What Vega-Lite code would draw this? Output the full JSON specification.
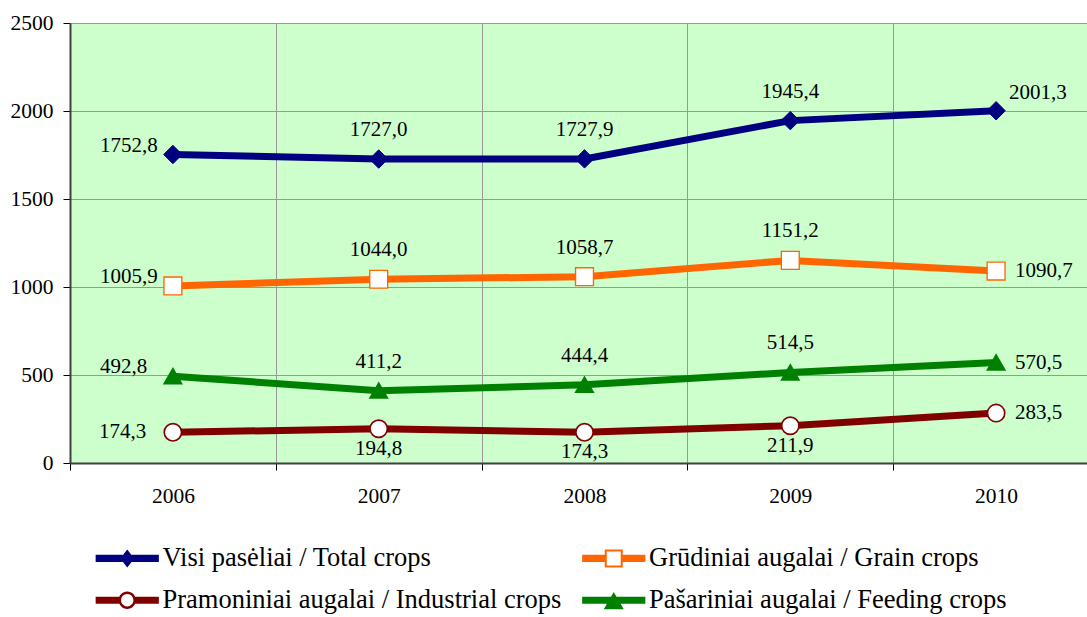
{
  "$schema": "https://vega.github.io/schema/vega-lite/v6.json",
  "width": 1029,
  "height": 440,
  "autosize": {"type": "none"},
  "padding": {"left": 70, "top": 23, "right": 0, "bottom": 154},
  "background": "white",
  "config": {
    "locale": {"number": {"decimal": ",", "thousands": "", "grouping": [3], "currency": ["", ""]}},
    "view": {"fill": "#CCFFCC", "stroke": null},
    "font": "Liberation Serif",
    "text": {"font": "Liberation Serif", "fontSize": 21, "color": "black"},
    "legend": {
      "orient": "none", "legendX": 44, "legendY": 522,
      "direction": "horizontal", "columns": 2, "title": null,
      "symbolSize": 256, "symbolStrokeWidth": 0, "symbolOpacity": 1,
      "labelFont": "Liberation Serif", "labelFontSize": 26.5, "labelColor": "black",
      "labelOffset": 22, "columnPadding": 19.5, "rowPadding": 15, "labelLimit": 700
    }
  },
  "data": {
    "values": [
      {"year": "2006", "series": "Visi pasėliai / Total crops", "value": 1752.8},
      {"year": "2007", "series": "Visi pasėliai / Total crops", "value": 1727.0},
      {"year": "2008", "series": "Visi pasėliai / Total crops", "value": 1727.9},
      {"year": "2009", "series": "Visi pasėliai / Total crops", "value": 1945.4},
      {"year": "2010", "series": "Visi pasėliai / Total crops", "value": 2001.3},
      {"year": "2006", "series": "Grūdiniai augalai / Grain crops", "value": 1005.9},
      {"year": "2007", "series": "Grūdiniai augalai / Grain crops", "value": 1044.0},
      {"year": "2008", "series": "Grūdiniai augalai / Grain crops", "value": 1058.7},
      {"year": "2009", "series": "Grūdiniai augalai / Grain crops", "value": 1151.2},
      {"year": "2010", "series": "Grūdiniai augalai / Grain crops", "value": 1090.7},
      {"year": "2006", "series": "Pramoniniai augalai / Industrial crops", "value": 174.3},
      {"year": "2007", "series": "Pramoniniai augalai / Industrial crops", "value": 194.8},
      {"year": "2008", "series": "Pramoniniai augalai / Industrial crops", "value": 174.3},
      {"year": "2009", "series": "Pramoniniai augalai / Industrial crops", "value": 211.9},
      {"year": "2010", "series": "Pramoniniai augalai / Industrial crops", "value": 283.5},
      {"year": "2006", "series": "Pašariniai augalai / Feeding crops", "value": 492.8},
      {"year": "2007", "series": "Pašariniai augalai / Feeding crops", "value": 411.2},
      {"year": "2008", "series": "Pašariniai augalai / Feeding crops", "value": 444.4},
      {"year": "2009", "series": "Pašariniai augalai / Feeding crops", "value": 514.5},
      {"year": "2010", "series": "Pašariniai augalai / Feeding crops", "value": 570.5}
    ]
  },
  "encoding": {
    "x": {
      "field": "year", "type": "ordinal",
      "scale": {"type": "band", "paddingInner": 0, "paddingOuter": 0},
      "axis": {
        "title": null, "labelAngle": 0, "tickBand": "extent",
        "labelFont": "Liberation Serif", "labelFontSize": 21.5, "labelColor": "black",
        "labelPadding": 15.5, "tickSize": 7, "tickColor": "black", "tickWidth": 1,
        "domainColor": "#404040", "domainWidth": 2,
        "grid": true, "gridColor": "#999999", "gridWidth": 1
      }
    },
    "y": {
      "field": "value", "type": "quantitative",
      "scale": {"domain": [0, 2500], "nice": false, "zero": true},
      "axis": {
        "title": null, "values": [0, 500, 1000, 1500, 2000, 2500], "format": "d",
        "labelFont": "Liberation Serif", "labelFontSize": 21.5, "labelColor": "black",
        "labelPadding": 10, "tickSize": 7, "tickColor": "black", "tickWidth": 1,
        "domainColor": "#404040", "domainWidth": 2,
        "grid": true, "gridColor": "#999999", "gridWidth": 1
      }
    }
  },
  "resolve": {"scale": {"shape": "independent", "fill": "independent"}, "legend": {"shape": "independent", "fill": "independent"}},
  "layer": [
    {
      "mark": {"type": "line", "strokeWidth": 7},
      "encoding": {
        "color": {
          "field": "series", "type": "nominal", "legend": null,
          "scale": {
            "domain": ["Visi pasėliai / Total crops", "Grūdiniai augalai / Grain crops", "Pramoniniai augalai / Industrial crops", "Pašariniai augalai / Feeding crops"],
            "range": ["#000080", "#FF6600", "#800000", "#008000"]
          }
        }
      }
    },
    {
      "mark": {"type": "point", "filled": true, "opacity": 1},
      "encoding": {
        "shape": {
          "field": "series", "type": "nominal", "legend": null,
          "scale": {
            "domain": ["Visi pasėliai / Total crops", "Grūdiniai augalai / Grain crops", "Pramoniniai augalai / Industrial crops", "Pašariniai augalai / Feeding crops"],
            "range": ["diamond", "square", "circle", "triangle-up"]
          }
        },
        "fill": {
          "field": "series", "type": "nominal", "legend": null,
          "scale": {
            "domain": ["Visi pasėliai / Total crops", "Grūdiniai augalai / Grain crops", "Pramoniniai augalai / Industrial crops", "Pašariniai augalai / Feeding crops"],
            "range": ["#000080", "#FFFFFF", "#FFFFFF", "#008000"]
          }
        },
        "stroke": {
          "field": "series", "type": "nominal", "legend": null,
          "scale": {
            "domain": ["Visi pasėliai / Total crops", "Grūdiniai augalai / Grain crops", "Pramoniniai augalai / Industrial crops", "Pašariniai augalai / Feeding crops"],
            "range": ["#000080", "#FF6600", "#800000", "#008000"]
          }
        },
        "strokeWidth": {
          "field": "series", "type": "nominal", "legend": null,
          "scale": {
            "domain": ["Visi pasėliai / Total crops", "Grūdiniai augalai / Grain crops", "Pramoniniai augalai / Industrial crops", "Pašariniai augalai / Feeding crops"],
            "range": [1, 2, 2.5, 1]
          }
        },
        "size": {
          "field": "series", "type": "nominal", "legend": null,
          "scale": {
            "domain": ["Visi pasėliai / Total crops", "Grūdiniai augalai / Grain crops", "Pramoniniai augalai / Industrial crops", "Pašariniai augalai / Feeding crops"],
            "range": [340, 280, 262, 440]
          }
        }
      }
    },
    {
      "transform": [{"filter": "false"}],
      "mark": {"type": "point", "filled": true, "opacity": 1},
      "encoding": {
        "shape": {
          "field": "series", "type": "nominal",
          "scale": {
            "domain": ["Visi pasėliai / Total crops", "Grūdiniai augalai / Grain crops", "Pramoniniai augalai / Industrial crops", "Pašariniai augalai / Feeding crops"],
            "range": [
              "M-3.95,-0.44L3.95,-0.44L3.95,0.44L-3.95,0.44Z M0,-1.125L0.875,0L0,1.125L-0.875,0Z",
              "M-3.95,-0.44L-1,-0.44L-1,0.44L-3.95,0.44Z M1,-0.44L3.95,-0.44L3.95,0.44L1,0.44Z M-1.125,-1.125L1.125,-1.125L1.125,1.125L-1.125,1.125Z M-0.875,-0.875L-0.875,0.875L0.875,0.875L0.875,-0.875Z",
              "M-3.95,-0.44L-0.9,-0.44L-0.9,0.44L-3.95,0.44Z M0.9,-0.44L3.95,-0.44L3.95,0.44L0.9,0.44Z M-1.08,0A1.08,1.08,0,1,1,1.08,0A1.08,1.08,0,1,1,-1.08,0Z M-0.77,0A0.77,0.77,0,1,0,0.77,0A0.77,0.77,0,1,0,-0.77,0Z",
              "M-3.95,-0.44L3.95,-0.44L3.95,0.44L-3.95,0.44Z M0,-1.04L1.25,1.125L-1.25,1.125Z"
            ]
          }
        },
        "fill": {
          "field": "series", "type": "nominal",
          "scale": {
            "domain": ["Visi pasėliai / Total crops", "Grūdiniai augalai / Grain crops", "Pramoniniai augalai / Industrial crops", "Pašariniai augalai / Feeding crops"],
            "range": ["#000080", "#FF6600", "#800000", "#008000"]
          }
        }
      }
    },
    {
      "transform": [{"filter": "datum.year != '2006' && datum.year != '2010' && datum.series != 'Pramoniniai augalai / Industrial crops'"}],
      "mark": {"type": "text", "dy": -29, "align": "center", "baseline": "middle"},
      "encoding": {"text": {"field": "value", "type": "quantitative", "format": ".1f"}}
    },
    {
      "transform": [{"filter": "datum.year != '2006' && datum.year != '2010' && datum.series == 'Pramoniniai augalai / Industrial crops'"}],
      "mark": {"type": "text", "dy": 20, "align": "center", "baseline": "middle"},
      "encoding": {"text": {"field": "value", "type": "quantitative", "format": ".1f"}}
    },
    {
      "transform": [{"filter": "datum.year == '2006' && datum.series != 'Pramoniniai augalai / Industrial crops'"}],
      "mark": {"type": "text", "dx": -73, "dy": -9, "align": "left", "baseline": "middle"},
      "encoding": {"text": {"field": "value", "type": "quantitative", "format": ".1f"}}
    },
    {
      "transform": [{"filter": "datum.year == '2006' && datum.series == 'Pramoniniai augalai / Industrial crops'"}],
      "mark": {"type": "text", "dx": -74, "dy": 0, "align": "left", "baseline": "middle"},
      "encoding": {"text": {"field": "value", "type": "quantitative", "format": ".1f"}}
    },
    {
      "transform": [{"filter": "datum.year == '2010' && datum.series == 'Visi pasėliai / Total crops'"}],
      "mark": {"type": "text", "dx": 13, "dy": -18, "align": "left", "baseline": "middle"},
      "encoding": {"text": {"field": "value", "type": "quantitative", "format": ".1f"}}
    },
    {
      "transform": [{"filter": "datum.year == '2010' && datum.series != 'Visi pasėliai / Total crops'"}],
      "mark": {"type": "text", "dx": 19, "dy": 0, "align": "left", "baseline": "middle"},
      "encoding": {"text": {"field": "value", "type": "quantitative", "format": ".1f"}}
    }
  ]
}
